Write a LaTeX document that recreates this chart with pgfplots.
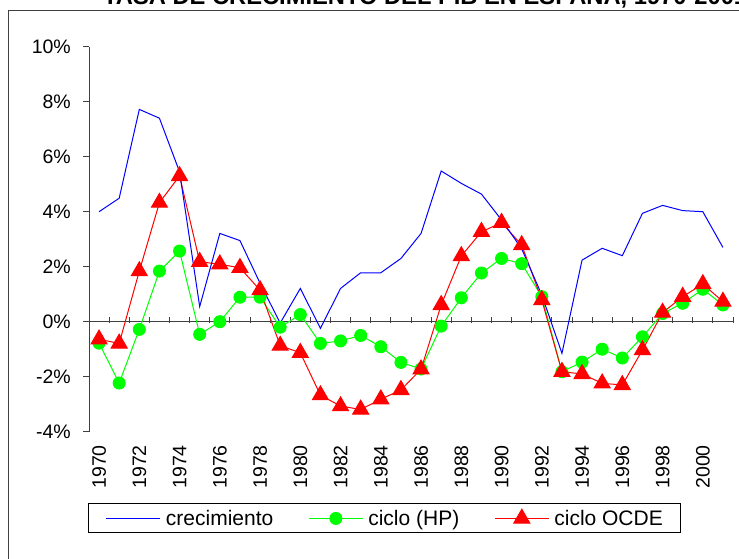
\documentclass[border=0pt]{standalone}
\usepackage{fontspec}
\setmainfont{Liberation Sans}
\usepackage{pgfplots}
\usepackage{pgfplotstable}
\pgfplotsset{compat=1.18}
\definecolor{cblue}{RGB}{0,0,255}
\definecolor{cgreen}{RGB}{0,255,0}
\definecolor{cred}{RGB}{255,0,0}
\pgfplotstableread{
year crec hp ocde
1970 4.00 -0.78 -0.64
1971 4.49 -2.23 -0.79
1972 7.72 -0.28 1.84
1973 7.40 1.84 4.33
1974 5.45 2.57 5.30
1975 0.55 -0.46 2.18
1976 3.21 0.00 2.09
1977 2.95 0.89 1.96
1978 1.40 0.89 1.15
1979 -0.05 -0.20 -0.87
1980 1.21 0.26 -1.13
1981 -0.24 -0.79 -2.67
1982 1.21 -0.70 -3.07
1983 1.78 -0.50 -3.19
1984 1.78 -0.91 -2.82
1985 2.30 -1.48 -2.48
1986 3.21 -1.72 -1.73
1987 5.48 -0.16 0.61
1988 5.03 0.87 2.39
1989 4.64 1.77 3.27
1990 3.70 2.30 3.60
1991 2.65 2.11 2.79
1992 0.97 0.91 0.79
1993 -1.15 -1.82 -1.82
1994 2.24 -1.47 -1.90
1995 2.67 -1.00 -2.24
1996 2.40 -1.32 -2.30
1997 3.94 -0.55 -1.03
1998 4.23 0.30 0.33
1999 4.04 0.67 0.91
2000 4.00 1.18 1.37
2001 2.70 0.61 0.73
}\datatable
\begin{document}
\begin{tikzpicture}[x=1pt,y=1pt]
\useasboundingbox (0,0) rectangle (739,558);
\fill[white] (0,0) rectangle (739,558);
\node[anchor=base west, inner sep=0pt, font=\bfseries\fontsize{23.7}{26}\selectfont] at (103,553.3) {TASA DE CRECIMIENTO DEL PIB EN ESPAÑA, 1970-2001};
\draw[black!75, line width=1pt] (8.7,-20) -- (8.7,547.3) -- (780,547.3);
\begin{axis}[
  scale only axis, width=644pt, height=385pt,
  at={(89pt,126.3pt)}, anchor=south west,
  xmin=1969.5, xmax=2001.5, ymin=-4, ymax=10,
  axis y line*=left, axis x line*=bottom,
  x axis line style={draw=none}, xtick style={draw=none},
  y axis line style={black!75, line width=1pt},
  ytick={-4,-2,...,10},
  yticklabels={-4\%,-2\%,0\%,2\%,4\%,6\%,8\%,10\%},
  ytick style={black!75, line width=1pt},
  tick align=outside, major tick length=6pt,
  xtick={1970,1972,...,2000},
  xticklabels={1970,1972,1974,1976,1978,1980,1982,1984,1986,1988,1990,1992,1994,1996,1998,2000},
  xticklabel style={rotate=90, anchor=east, inner sep=0pt},
  xticklabel shift=7.3pt,
  yticklabel style={anchor=east, inner sep=0pt},
  yticklabel shift=12pt,
  tick label style={font=\fontsize{19.5}{20}\selectfont},
  clip=false,
  legend columns=3,
  legend style={at={(-0.0016,-0.2639)}, anchor=south west, draw=black, line width=1pt,
    font=\fontsize{21}{23}\selectfont, inner xsep=17.5pt, inner ysep=6pt,
    nodes={inner sep=0pt},
    /tikz/every even column/.append style={column sep=35pt},
    /tikz/every odd column/.append style={column sep=5pt}},
  legend image code/.code={\draw[mark repeat=2,mark phase=2,#1] plot coordinates {(0pt,0pt) (27pt,0pt) (54pt,0pt)};},
]
\draw[black!75, line width=1.5pt] (axis cs:1969.5,0) -- (axis cs:2001.5,0);
\pgfplotsinvokeforeach{1969,...,2001}{\draw[black!75,line width=1pt] (axis cs:#1.5,0) ++(0pt,-1.5pt) -- ++(0pt,6.5pt);}
\addlegendimage{cblue, line width=1pt}
\addlegendentry{crecimiento}
\addlegendimage{cgreen, line width=1pt, mark=*, mark size=6pt, mark options={fill=cgreen, draw=cgreen}}
\addlegendentry{ciclo (HP)}
\addlegendimage{cred, line width=1pt, mark=triangle*, mark size=9.2pt, mark options={fill=cred, draw=cred}}
\addlegendentry{ciclo OCDE}
\addplot[forget plot, cgreen, line width=1pt, mark=*, mark size=6pt, mark options={fill=cgreen, draw=cgreen}] table[x=year, y=hp] {\datatable};
\addplot[forget plot, cred, line width=1pt, mark=triangle*, mark size=9.2pt, mark options={fill=cred, draw=cred}] table[x=year, y=ocde] {\datatable};
\addplot[forget plot, cblue, line width=1pt] table[x=year, y=crec] {\datatable};
\end{axis}
\end{tikzpicture}
\end{document}
